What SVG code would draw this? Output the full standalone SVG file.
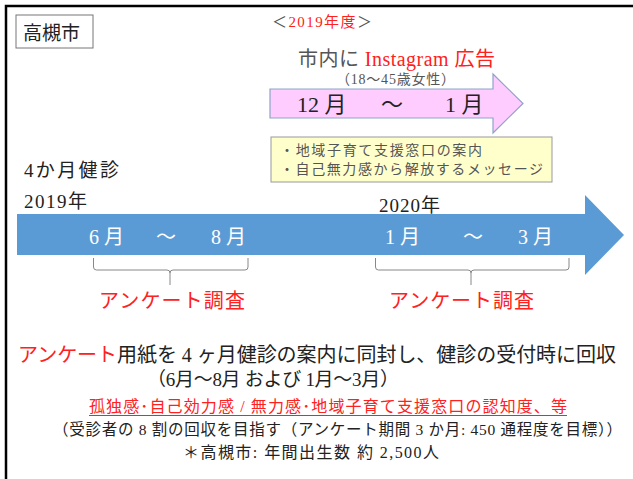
<svg xmlns="http://www.w3.org/2000/svg" width="633" height="479" viewBox="0 0 633 479">
<style>
text{font-family:"Liberation Serif","Noto Sans CJK JP",serif;fill:#222}
.red{fill:#ff2020}
.gray{fill:#555}
.wh{fill:#fff}
.brace{fill:none;stroke:#888;stroke-width:1}
</style>
<rect width="633" height="479" fill="#fff"/>
<path d="M6,479 V6 H633" fill="none" stroke="#000" stroke-width="2.5"/>
<g id="city">
<rect x="16" y="15" width="77" height="33" fill="#fff" stroke="#777" stroke-width="1"/>
<text x="23" y="40" font-size="19" style="font-family:'Noto Sans CJK JP',sans-serif">高槻市</text>
</g>
<g id="fy">
<text x="272" y="27" font-size="15" textLength="100" lengthAdjust="spacing"><tspan class="gray">＜</tspan><tspan class="red">2019年度</tspan><tspan class="gray">＞</tspan></text>
</g>
<g id="insta">
<text x="298" y="66" font-size="20" textLength="197" lengthAdjust="spacing"><tspan class="gray">市内に </tspan><tspan class="red">Instagram 広告</tspan></text>
<text x="336" y="84" font-size="14" class="gray" textLength="119" lengthAdjust="spacing">（18〜45歳女性）</text>
</g>
<g id="pinkArrow">
<path d="M270,89 H493 V74 L523,103.5 L493,133 V118 H270 Z" fill="#ffccff" stroke="#8ea3c8" stroke-width="1.2"/>
<text x="297" y="112" font-size="22">12 月</text>
<text x="381" y="112" font-size="22">〜</text>
<text x="445" y="112" font-size="22">1 月</text>
</g>
<g id="msgBox">
<rect x="271" y="137" width="281" height="45" fill="#ffffcc" stroke="#999" stroke-width="1"/>
<text x="280" y="155" font-size="14" class="gray" textLength="202" lengthAdjust="spacing">・地域子育て支援窓口の案内</text>
<text x="280" y="174" font-size="14" class="gray" textLength="263" lengthAdjust="spacing">・自己無力感から解放するメッセージ</text>
</g>
<g id="checkup">
<text x="24" y="177" font-size="19" textLength="95" lengthAdjust="spacing">4か月健診</text>
<text x="24" y="208" font-size="19" textLength="63" lengthAdjust="spacing">2019年</text>
<text x="379" y="212" font-size="19" textLength="61" lengthAdjust="spacing">2020年</text>
</g>
<g id="blueArrow">
<path d="M17,214 H585 V195 L624,235 L585,275 V255 H17 Z" fill="#5b9bd5"/>
<text x="89" y="244" font-size="20" class="wh">6 月</text>
<text x="156" y="244" font-size="20" class="wh">〜</text>
<text x="211" y="244" font-size="20" class="wh">8 月</text>
<text x="385" y="244" font-size="20" class="wh">1 月</text>
<text x="463" y="244" font-size="20" class="wh">〜</text>
<text x="518" y="244" font-size="20" class="wh">3 月</text>
</g>
<g id="connectors">
<path class="brace" d="M93.5,258 V267 Q93.5,270 96.5,270 H167 Q170,270 170,273 V285 M170,273 Q170,270 173,270 H245 Q248,270 248,267 V258"/>
<path class="brace" d="M375.5,258 V267 Q375.5,270 378.5,270 H468 Q471,270 471,273 V285 M471,273 Q471,270 474,270 H566 Q569,270 569,267 V258"/>
</g>
<g id="survey">
<text x="99" y="308" font-size="20" class="red" textLength="146" lengthAdjust="spacing">アンケート調査</text>
<text x="389" y="308" font-size="20" class="red" textLength="145" lengthAdjust="spacing">アンケート調査</text>
</g>
<g id="notes">
<text x="18" y="362" font-size="20" textLength="598" lengthAdjust="spacing"><tspan class="red">アンケート</tspan>用紙を 4 ヶ月健診の案内に同封し、健診の受付時に回収</text>
<text x="147" y="386" font-size="19" textLength="252" lengthAdjust="spacing">（6月〜8月 および 1月〜3月）</text>
<text x="89" y="412" font-size="16" class="red" textLength="478" lengthAdjust="spacing">孤独感･自己効力感 / 無力感･地域子育て支援窓口の認知度、等</text>
<line x1="89" y1="415.5" x2="567" y2="415.5" stroke="#ff2020" stroke-width="1"/>
<text x="53" y="435" font-size="15.5" textLength="569" lengthAdjust="spacing">（受診者の 8 割の回収を目指す（アンケート期間 3 か月: 450 通程度を目標））</text>
<text x="183" y="458" font-size="16" textLength="256" lengthAdjust="spacing">＊高槻市: 年間出生数   約 2,500人</text>
</g>
</svg>
